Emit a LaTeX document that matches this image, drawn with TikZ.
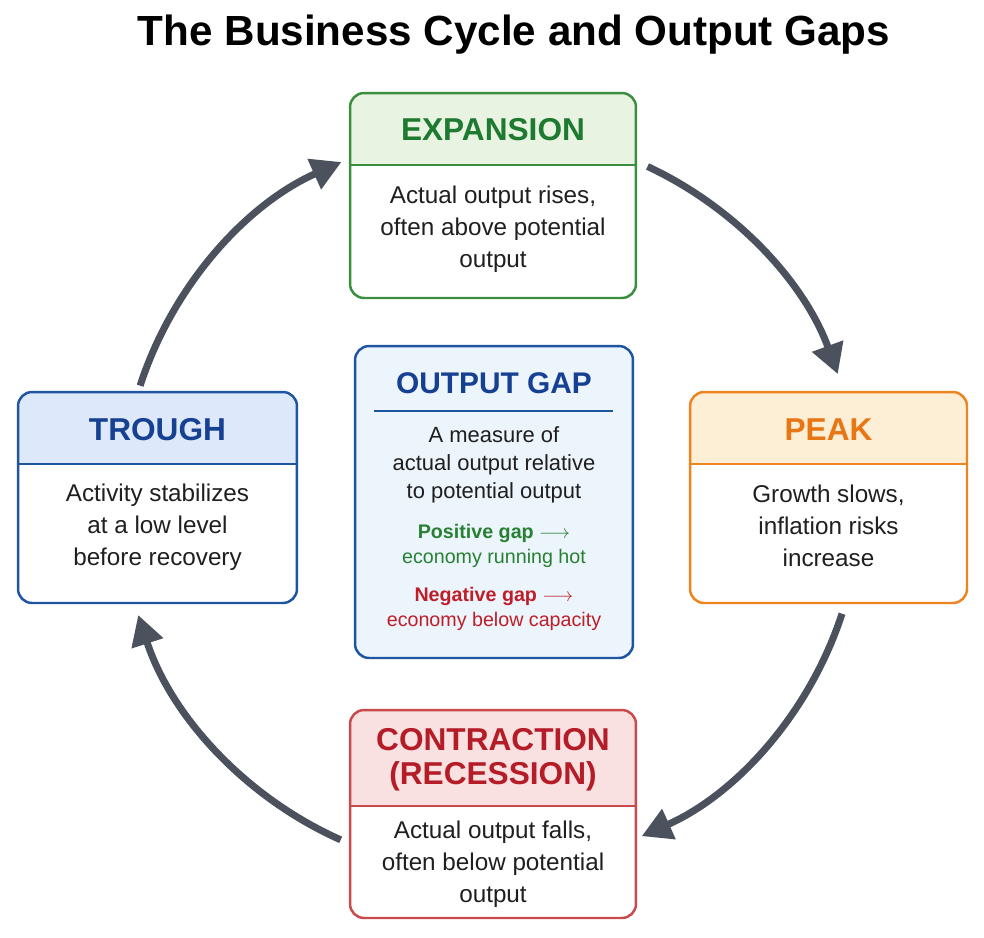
\documentclass[tikz,border=0pt]{standalone}
\usepackage{fontspec}
\setmainfont{Liberation Sans}
\usetikzlibrary{arrows.meta,positioning}

\definecolor{expline}{RGB}{58,142,62}
\definecolor{expfill}{RGB}{232,243,226}
\definecolor{exptext}{RGB}{30,122,48}
\definecolor{pkline}{RGB}{238,132,32}
\definecolor{pkfill}{RGB}{253,238,214}
\definecolor{pktext}{RGB}{232,118,20}
\definecolor{trline}{RGB}{30,84,160}
\definecolor{trfill}{RGB}{221,233,250}
\definecolor{trtext}{RGB}{22,64,146}
\definecolor{conline}{RGB}{200,74,74}
\definecolor{confill}{RGB}{249,225,225}
\definecolor{contxt}{RGB}{180,28,40}
\definecolor{gapline}{RGB}{30,84,160}
\definecolor{gapfill}{RGB}{236,244,252}
\definecolor{hotgreen}{RGB}{40,128,50}
\definecolor{coldred}{RGB}{190,30,40}
\definecolor{cycgray}{RGB}{76,81,94}

\begin{document}
\begin{tikzpicture}[x=0.02cm,y=-0.02cm,
        phase/.style 2 args={draw=#1line, fill=white, line width=1.4pt,
          rounded corners=8pt, inner sep=0pt,
          path picture={
            \fill[#1fill, sharp corners] (path picture bounding box.north west)
              rectangle ([shift={(0,#2)}]path picture bounding box.north east);
            \draw[#1line, line width=1.2pt, sharp corners]
              ([shift={(0,#2)}]path picture bounding box.north west)
              -- ([shift={(0,#2)}]path picture bounding box.north east);
          }},
        phasetitle/.style={font=\bfseries\fontsize{18}{19.3}\selectfont, align=center},
        phasebody/.style={font=\fontsize{13.8}{18.3}\selectfont, align=center, text=black!88},
        gapnote/.style={font=\fontsize{11.2}{14.2}\selectfont, align=center},
        cyclearrow/.style={draw=cycgray, line width=4pt,
          -{Triangle[length=17pt,width=18pt]}}]

  \useasboundingbox (0,0) rectangle (984,937);

  \node[font=\bfseries\fontsize{24}{28}\selectfont] (title) at (514,35)
    {The Business Cycle and Output Gaps};

  % the four phases
  \node[phase={exp}{72}, minimum width=5.72cm, minimum height=4.10cm] (exp) at (493,195.5) {};
  \node[phasetitle, text=exptext] (exp-t) at (493,130) {EXPANSION};
  \node[phasebody] (exp-b) at (493,229) {Actual output rises,\\often above potential\\output};

  \node[phase={pk}{72}, minimum width=5.54cm, minimum height=4.22cm] (peak) at (828.5,497.5) {};
  \node[phasetitle, text=pktext] (peak-t) at (828.5,430) {PEAK};
  \node[phasebody] (peak-b) at (828.5,526) {Growth slows,\\inflation risks\\increase};

  \node[phase={con}{96}, minimum width=5.72cm, minimum height=4.16cm] (contr) at (493,814) {};
  \node[phasetitle, text=contxt] (contr-t) at (493,760) {CONTRACTION\\(RECESSION)};
  \node[phasebody] (contr-b) at (493,864) {Actual output falls,\\often below potential\\output};

  \node[phase={tr}{72}, minimum width=5.58cm, minimum height=4.22cm] (trough) at (157.5,497.5) {};
  \node[phasetitle, text=trtext] (trough-t) at (157.5,430) {TROUGH};
  \node[phasebody] (trough-b) at (157.5,527) {Activity stabilizes\\at a low level\\before recovery};

  % output gap in the middle
  \node[draw=gapline, fill=gapfill, line width=1.4pt, rounded corners=8pt,
        minimum width=5.56cm, minimum height=6.24cm] (gap) at (494,502) {};
  \node[phasetitle, font=\bfseries\fontsize{17}{19}\selectfont, text=trtext] (gap-t) at (494,383) {OUTPUT GAP};
  \coordinate (rule-l) at (374,411);
  \coordinate (rule-r) at (613,411);
  \draw[gapline, line width=1.2pt] (rule-l) -- (rule-r);
  \node[font=\fontsize{12.5}{15.9}\selectfont, align=center, text=black!88] (gap-b) at (494,465)
    {A measure of\\actual output relative\\to potential output};
  \node[gapnote, text=hotgreen] (pos) at (494,546)
    {\textbf{Positive gap} $\longrightarrow$\\economy running hot};
  \node[gapnote, text=coldred] (neg) at (494,609)
    {\textbf{Negative gap} $\longrightarrow$\\economy below capacity};

  % the cycle
  \coordinate (hub) at (492,500);
  \coordinate (a1) at ([shift={(198:370)}]hub);
  \coordinate (a2) at ([shift={(295:368)}]hub);
  \coordinate (a3) at ([shift={(18:368)}]hub);
  \coordinate (a4) at ([shift={(114:372)}]hub);
  \draw[cyclearrow] (a1) arc[start angle=198, end angle=246, radius=370];
  \draw[cyclearrow] (a2) arc[start angle=295, end angle=340, radius=368];
  \draw[cyclearrow] (a3) arc[start angle=18, end angle=66, radius=368];
  \draw[cyclearrow] (a4) arc[start angle=114, end angle=162, radius=372];

\end{tikzpicture}
\end{document}
